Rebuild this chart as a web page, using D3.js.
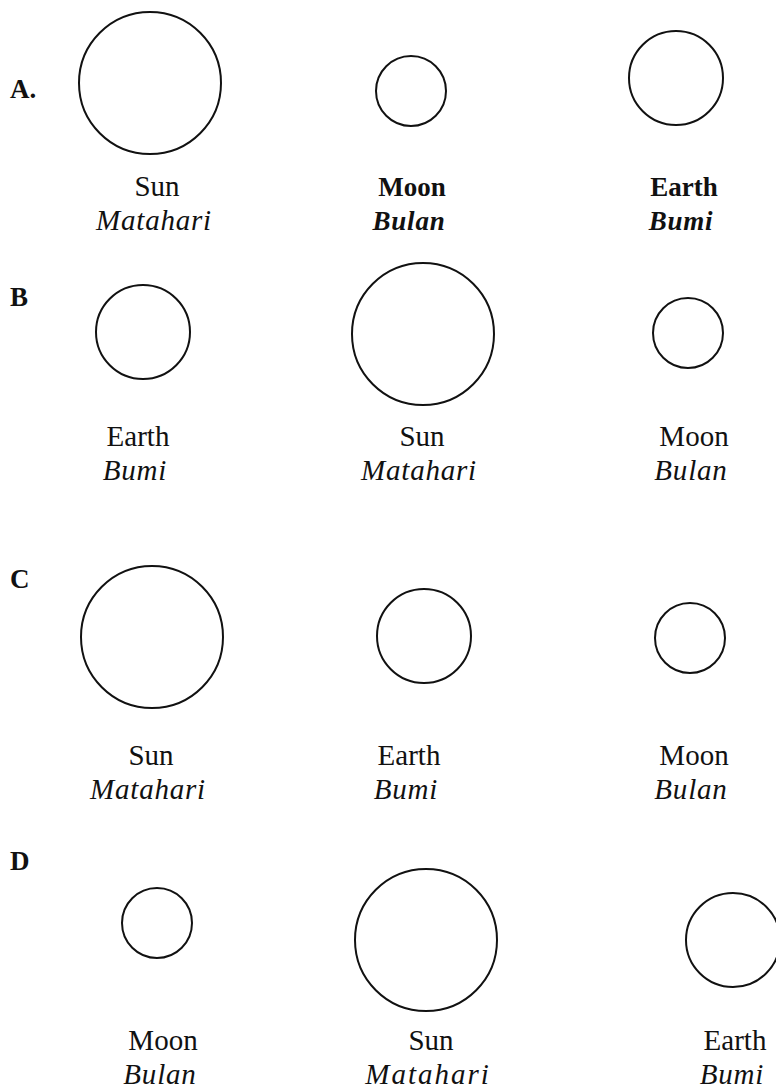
<!DOCTYPE html>
<html>
<head>
<meta charset="utf-8">
<script src="https://cdn.jsdelivr.net/npm/d3@7/dist/d3.min.js"></script>
<style>
  html, body { margin: 0; padding: 0; background: #fff; }
  svg { display: block; }
</style>
</head>
<body>
<script>
// ---- data ----
const options = ["A.", "B", "C", "D"];
const bodiesA = ["Sun", "Moon", "Earth"];
const bodiesB = ["Earth", "Sun", "Moon"];
const bodiesC = ["Sun", "Earth", "Moon"];
const bodiesD = ["Moon", "Sun", "Earth"];
const bodyNames = ["Sun", "Earth", "Moon"];
const bodyNamesId = ["Matahari", "Bumi", "Bulan"];
const bodySizes = [71, 47, 35];          // relative drawn size
const boldA = [false, true, true];      // option A label weight per column

const W = 776, H = 1090;
const svg = d3.select("body").append("svg").attr("width", W).attr("height", H);

const rows = [bodiesA, bodiesB, bodiesC, bodiesD];

// ---- layout scales ----
const cols = [0, 1, 2];
const colY = {
  "A.": d3.scaleOrdinal().domain(cols).range([83, 91, 78]),
  "B":  d3.scaleOrdinal().domain(cols).range([332, 334, 333]),
  "C":  d3.scaleOrdinal().domain(cols).range([637, 636, 638]),
  "D":  d3.scaleOrdinal().domain(cols).range([923, 940, 940])
};
const labelY = d3.scaleOrdinal().domain(options).range([196, 446, 765, 1050]);
const letterY = d3.scaleOrdinal().domain(options).range([98, 306, 588, 870]);
const colX = {
  "A.": d3.scaleOrdinal().domain(cols).range([150, 411, 676]),
  "B":  d3.scaleOrdinal().domain(cols).range([143, 423, 688]),
  "C":  d3.scaleOrdinal().domain(cols).range([152, 424, 690]),
  "D":  d3.scaleOrdinal().domain(cols).range([157, 426, 733])
};
const labX = {
  "A.": d3.scaleOrdinal().domain(cols).range([157, 412, 684]),
  "B":  d3.scaleOrdinal().domain(cols).range([138, 422, 694]),
  "C":  d3.scaleOrdinal().domain(cols).range([151, 409, 694]),
  "D":  d3.scaleOrdinal().domain(cols).range([163, 431, 735])
};
const rScale = d3.scaleLinear().domain([0, 71]).range([0, 71]);
const nameIndex = d3.scaleOrdinal().domain(bodyNames).range([0, 1, 2]);

const font = "'Liberation Serif', 'Times New Roman', serif";

options.forEach((opt, i) => {
  const g = svg.append("g");
  g.append("text")
    .attr("x", 10).attr("y", letterY(opt))
    .attr("font-family", font).attr("font-weight", "bold").attr("font-size", 27)
    .attr("fill", "#111")
    .text(opt);

  const cells = rows[i].map((b, c) => ({ b, c, k: nameIndex(b) }));
  const bold = d => i === 0 && boldA[d.c];

  g.selectAll("circle").data(cells).join("circle")
    .attr("cx", d => colX[opt](d.c))
    .attr("cy", d => colY[opt](d.c))
    .attr("r", d => rScale(bodySizes[d.k]))
    .attr("fill", "none")
    .attr("stroke", "#111")
    .attr("stroke-width", 2);

  g.selectAll("text.en").data(cells).join("text")
    .attr("class", "en")
    .attr("x", d => labX[opt](d.c)).attr("y", labelY(opt))
    .attr("text-anchor", "middle")
    .attr("font-family", font)
    .attr("font-size", d => bold(d) ? 27 : 29)
    .attr("font-weight", d => bold(d) ? "bold" : "normal")
    .attr("fill", "#111")
    .text(d => d.b);

  g.selectAll("text.id").data(cells).join("text")
    .attr("class", "id")
    .attr("x", d => labX[opt](d.c) - 3).attr("y", labelY(opt) + 34)
    .attr("text-anchor", "middle")
    .attr("font-family", font)
    .attr("font-size", d => bold(d) ? 27 : 29)
    .attr("font-style", "italic")
    .attr("font-weight", d => bold(d) ? "bold" : "normal")
    .attr("letter-spacing", d => (i === 3 && d.k === 0) ? 2 : 0.8)
    .attr("fill", "#111")
    .text(d => bodyNamesId[d.k]);
});
</script>
</body>
</html>
